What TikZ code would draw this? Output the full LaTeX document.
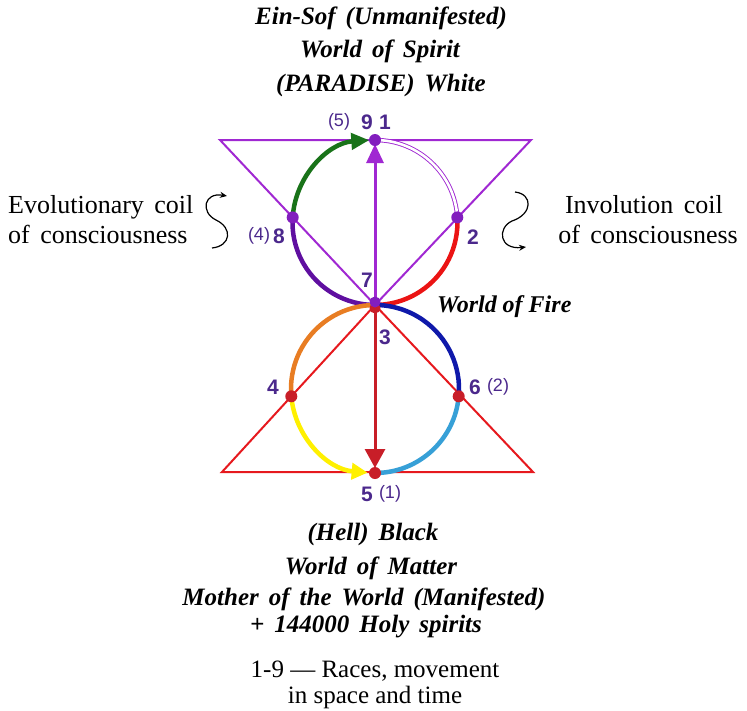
\documentclass[tikz,border=0pt]{standalone}
\usepackage{fontspec}
\setmainfont{Liberation Serif}
\newfontfamily\titlefont[WordSpace=2.4]{Liberation Serif}
\newfontfamily\sidefont[WordSpace=1.6]{Liberation Serif}
\newfontfamily\numfont{Liberation Sans}
\usetikzlibrary{arrows.meta}
\definecolor{tri}{RGB}{160,40,210}
\definecolor{dpurple}{RGB}{95,15,160}
\definecolor{dgreen}{RGB}{25,115,25}
\definecolor{fire}{RGB}{235,20,20}
\definecolor{trired}{RGB}{230,25,30}
\definecolor{arrred}{RGB}{200,30,40}
\definecolor{orng}{RGB}{232,125,35}
\definecolor{yell}{RGB}{255,240,0}
\definecolor{lblue}{RGB}{55,160,215}
\definecolor{dblue}{RGB}{15,25,170}
\definecolor{numc}{RGB}{75,40,140}
\definecolor{parc}{RGB}{75,40,140}
\definecolor{dotp}{RGB}{130,30,190}
\definecolor{dotr}{RGB}{200,30,40}
\begin{document}
\begin{tikzpicture}[x=1pt,y=-1pt,
  titletext/.style={font=\titlefont\fontsize{25}{28}\selectfont\bfseries\itshape, anchor=base, inner sep=0pt},
  firetext/.style={font=\fontsize{24}{28}\selectfont\bfseries\itshape, anchor=base west, inner sep=0pt},
  plaintext/.style={font=\sidefont\fontsize{26}{30}\selectfont, anchor=base, inner sep=0pt},
  smalltext/.style={font=\fontsize{25}{30}\selectfont, anchor=base, inner sep=0pt},
  num/.style={font=\numfont\fontsize{21}{24}\selectfont\bfseries, text=numc, inner sep=0pt},
  parnum/.style={font=\numfont\fontsize{18}{22}\selectfont, text=parc, inner sep=0pt},
  triline/.style={line width=2pt, line join=miter},
  arcline/.style={line width=4.5pt},
  coil/.style={line width=1.2pt, -{Stealth[length=7pt,width=6pt]}},
  dot/.style={radius=6}
]
\useasboundingbox (0,0) rectangle (747,710);
% key points
\coordinate (tl) at (220,140);
\coordinate (tr) at (531,140);
\coordinate (p9) at (375,140);
\coordinate (p7) at (375,305);
\coordinate (p8) at (292.7,217.4);
\coordinate (p2) at (457.3,217.4);
\coordinate (bl) at (222,472);
\coordinate (br) at (533,472);
\coordinate (p3) at (375,305);
\coordinate (p5) at (375,473);
\coordinate (p4) at (291.3,396.3);
\coordinate (p6) at (458.7,396.3);
% triangles
\draw[triline, tri] (tl) -- (tr) -- (p7) -- cycle;
\draw[triline, trired] (bl) -- (br) -- (p3) -- cycle;
% upper circle arcs
\draw[arcline, dpurple] (p7) arc[start angle=90, end angle=183.5, radius=82.5];
\draw[arcline, dgreen, -{Triangle[length=18pt,width=16pt]}] (p8) arc[start angle=183.5, end angle=266, radius=82.5];
\draw[line width=0.9pt, tri, double=white, double distance=2.6pt] (p9) arc[start angle=270, end angle=356.5, radius=82.5];
\draw[arcline, fire] (p2) arc[start angle=356.5, end angle=450, radius=82.5];
% lower circle arcs
\draw[arcline, orng] (p3) arc[start angle=270, end angle=175, radius=84];
\draw[arcline, yell, -{Triangle[length=16pt,width=16pt]}] (p4) arc[start angle=175, end angle=95, radius=84];
\draw[arcline, lblue] (p5) arc[start angle=90, end angle=5, radius=84];
\draw[arcline, dblue] (p6) arc[start angle=5, end angle=-90, radius=84];
% central arrows
\draw[line width=3pt, tri, -{Triangle[length=19pt,width=17pt]}, shorten >=4pt] (p7) -- (p9);
\draw[line width=3pt, arrred, -{Triangle[length=19pt,width=20pt]}, shorten >=5pt] (p3) -- (p5);
% dots
\fill[dotp] (p9) circle[dot];
\fill[dotp] (p8) circle[dot];
\fill[dotp] (p2) circle[dot];
\fill[dotr] (375,308) circle[radius=5.5];
\fill[dotp] (375,302) circle[radius=5.5];
\fill[dotr] (p4) circle[dot];
\fill[dotr] (p6) circle[dot];
\fill[dotr] (p5) circle[dot];
% number labels
\node[parnum] (l5a) at (339,122) {(5)};
\node[num] (l9) at (367,122) {9};
\node[num] (l1) at (385,122) {1};
\node[parnum] (l4a) at (259,236) {(4)};
\node[num] (l8) at (279,236) {8};
\node[num] (l2) at (473,237) {2};
\node[num] (l7) at (367,280) {7};
\node[num] (l3) at (385,337) {3};
\node[num] (l4) at (273,387) {4};
\node[num] (l6) at (475,387) {6};
\node[parnum] (l2a) at (498,387) {(2)};
\node[num] (l5) at (367,494) {5};
\node[parnum] (l1a) at (390,494) {(1)};
% titles
\node[titletext] (t1) at (381,24) {Ein-Sof (Unmanifested)};
\node[titletext] (t2) at (380,57) {World of Spirit};
\node[titletext] (t3) at (381,91) {(PARADISE) White};
\node[firetext] (fire) at (437,312) {World of Fire};
\node[titletext] (b1) at (373,540) {(Hell) Black};
\node[titletext] (b2) at (371,574) {World of Matter};
\node[titletext] (b3) at (364,605) {Mother of the World (Manifested)};
\node[titletext] (b4) at (366,632) {+ 144000 Holy spirits};
\node[smalltext] (c1) at (375,677) {1-9 --- Races, movement};
\node[smalltext] (c2) at (375,703) {in space and time};
% side texts
\node[plaintext, anchor=base west] (e1) at (8,213) {Evolutionary coil};
\node[plaintext, anchor=base west] (e2) at (8,243) {of consciousness};
\node[plaintext, anchor=base east] (i1) at (723,213) {Involution coil};
\node[plaintext, anchor=base east] (i2) at (738,243) {of consciousness};
% coils
\coordinate (ecs) at (212,248);
\coordinate (ecm) at (216,220);
\coordinate (ece) at (227,196);
\draw[coil] (ecs) .. controls (231,246) and (233,228) .. (ecm) .. controls (200,212) and (204,192) .. (ece);
\coordinate (ics) at (515,192);
\coordinate (icm) at (512,221);
\coordinate (ice) at (526,247);
\draw[coil] (ics) .. controls (533,194) and (533,214) .. (icm) .. controls (497,228) and (499,250) .. (ice);
\end{tikzpicture}
\end{document}
